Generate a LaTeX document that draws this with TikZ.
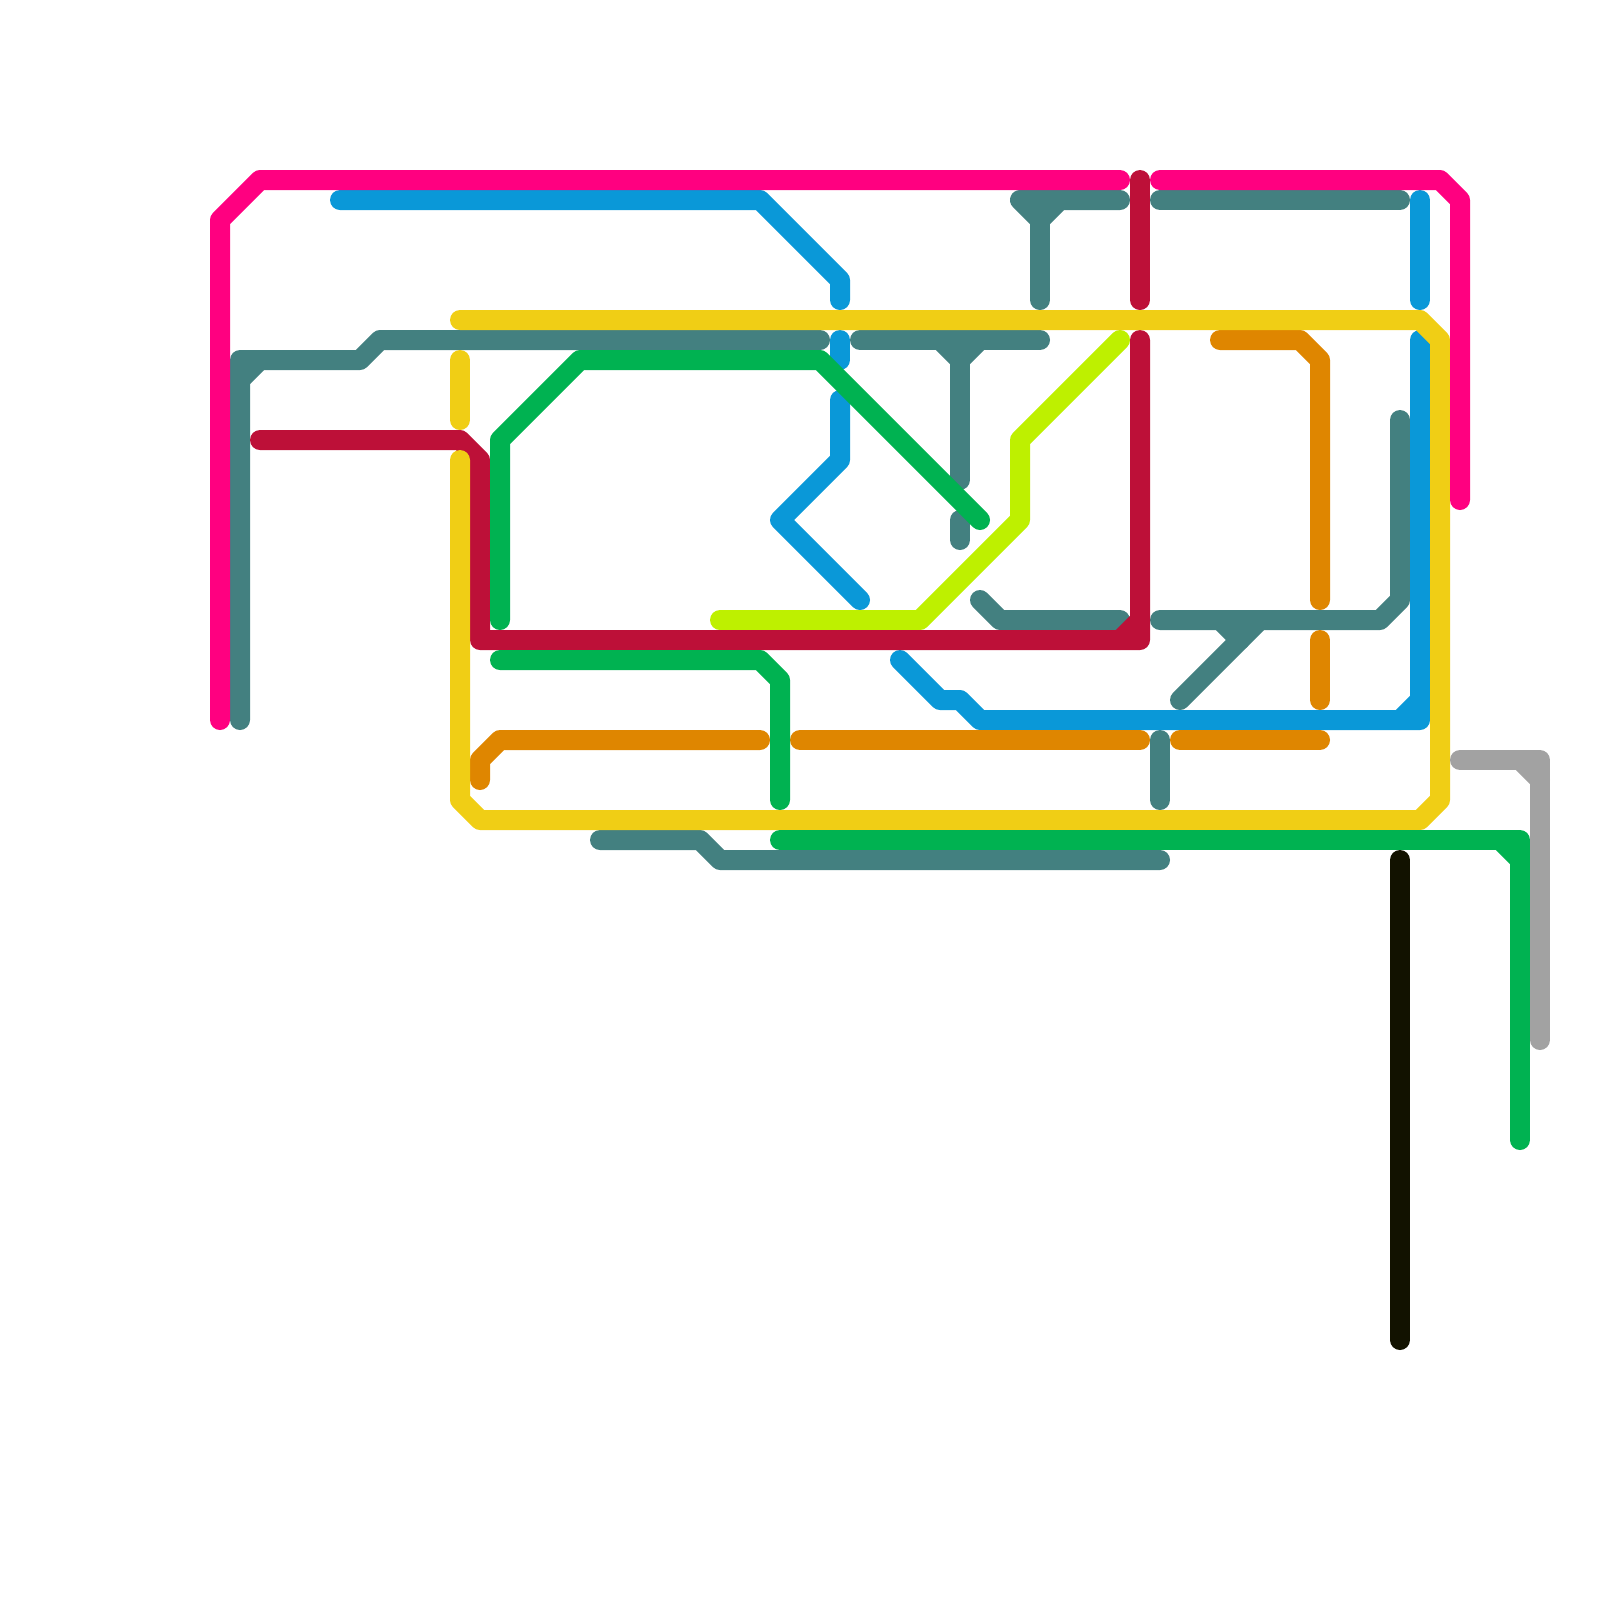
\documentclass[tikz,border=0pt]{standalone}
\usepackage{tikz}
\definecolor{linepink}{HTML}{FF0080}
\definecolor{lineteal}{HTML}{438080}
\definecolor{lineblue}{HTML}{0A98D8}
\definecolor{lineyellow}{HTML}{F0CE15}
\definecolor{linegreen}{HTML}{00B251}
\definecolor{linelime}{HTML}{BEF000}
\definecolor{linecrimson}{HTML}{BD1038}
\definecolor{lineorange}{HTML}{DF8600}
\definecolor{lineblack}{HTML}{121200}
\definecolor{linegray}{HTML}{A2A2A2}
\tikzset{metro/.style={line width=0.5cm, line cap=round, line join=round}}

\begin{document}
\begin{tikzpicture}[x=0.5cm, y=-0.5cm]
\useasboundingbox (0,0) rectangle (80,80);
% teal
\draw[metro, lineteal] (12,36) -- (12,18) -- (18,18) -- (19,17) -- (41,17);
\draw[metro, lineteal] (12,19) -- (13,18);
\draw[metro, lineteal] (43,17) -- (52,17);
\draw[metro, lineteal] (47,17) -- (48,18) -- (49,17);
\draw[metro, lineteal] (48,18) -- (48,24);
\draw[metro, lineteal] (48,26) -- (48,27);
\draw[metro, lineteal] (56,10) -- (51,10) -- (52,11) -- (53,10);
\draw[metro, lineteal] (52,11) -- (52,15);
\draw[metro, lineteal] (58,10) -- (70,10);
\draw[metro, lineteal] (70,21) -- (70,30) -- (69,31) -- (58,31);
\draw[metro, lineteal] (61,31) -- (62,32);
\draw[metro, lineteal] (63,31) -- (59,35);
\draw[metro, lineteal] (49,30) -- (50,31) -- (56,31);
\draw[metro, lineteal] (58,37) -- (58,40);
\draw[metro, lineteal] (30,42) -- (35,42) -- (36,43) -- (58,43);
% blue
\draw[metro, lineblue] (17,10) -- (38,10) -- (42,14) -- (42,15);
\draw[metro, lineblue] (42,17) -- (42,18);
\draw[metro, lineblue] (42,20) -- (42,23) -- (39,26) -- (43,30);
\draw[metro, lineblue] (71,10) -- (71,15);
\draw[metro, lineblue] (45,33) -- (47,35) -- (48,35) -- (49,36) -- (71,36) -- (71,17);
\draw[metro, lineblue] (70,36) -- (71,35);
% orange
\draw[metro, lineorange] (24,39) -- (24,38) -- (25,37) -- (38,37);
\draw[metro, lineorange] (40,37) -- (57,37);
\draw[metro, lineorange] (59,37) -- (66,37);
\draw[metro, lineorange] (61,17) -- (65,17) -- (66,18) -- (66,30);
\draw[metro, lineorange] (66,32) -- (66,35);
% lime
\draw[metro, linelime] (56,17) -- (51,22) -- (51,26) -- (46,31) -- (36,31);
% crimson
\draw[metro, linecrimson] (13,22) -- (23,22) -- (24,23) -- (24,32) -- (57,32) -- (57,17);
\draw[metro, linecrimson] (56,32) -- (57,31);
\draw[metro, linecrimson] (57,9) -- (57,15);
% yellow
\draw[metro, lineyellow] (23,16) -- (71,16) -- (72,17) -- (72,40) -- (71,41) -- (24,41) -- (23,40) -- (23,23);
\draw[metro, lineyellow] (23,18) -- (23,21);
% green
\draw[metro, linegreen] (25,31) -- (25,22) -- (29,18) -- (41,18) -- (49,26);
\draw[metro, linegreen] (25,33) -- (38,33) -- (39,34) -- (39,40);
\draw[metro, linegreen] (39,42) -- (76,42) -- (76,57);
\draw[metro, linegreen] (75,42) -- (76,43);
% pink
\draw[metro, linepink] (11,36) -- (11,11) -- (13,9) -- (56,9);
\draw[metro, linepink] (58,9) -- (72,9) -- (73,10) -- (73,25);
% black and gray
\draw[metro, lineblack] (70,43) -- (70,67);
\draw[metro, linegray] (73,38) -- (77,38) -- (77,52);
\draw[metro, linegray] (76,38) -- (77,39);
\end{tikzpicture}
\end{document}
